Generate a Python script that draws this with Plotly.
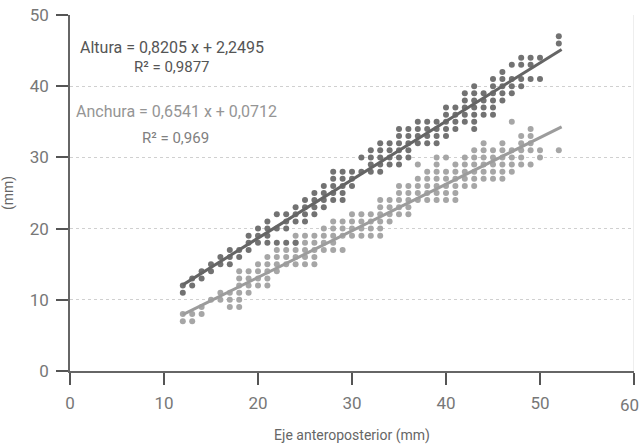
import plotly.graph_objects as go

# Altura (height) observations: x (anteroposterior, mm) -> list of y (mm)
altura_cols = {
    12: [12, 11], 13: [13, 12], 14: [14, 13], 15: [15, 14], 16: [16, 15],
    17: [17, 16, 15], 18: [17, 16], 19: [19, 18, 17], 20: [20, 19, 18],
    21: [21, 20, 19, 18], 22: [22, 20, 18], 23: [22, 21, 20, 18],
    24: [23, 22, 21, 18], 25: [24, 23, 22, 21], 26: [25, 24, 23, 22],
    27: [26, 25, 24, 23], 28: [28, 27, 26, 25, 24], 29: [28, 27, 26, 25, 24],
    30: [28, 27, 26], 31: [30, 28], 32: [31, 30, 29, 28],
    33: [32, 31, 30, 29, 28], 34: [32, 31, 30, 29], 35: [34, 33, 32, 31, 30, 29],
    36: [34, 33, 32, 31, 30], 37: [35, 34, 33, 32], 38: [35, 34, 33, 32],
    39: [35, 34, 33, 32], 40: [37, 36, 35, 34, 33], 41: [37, 36, 35, 34],
    42: [39, 38, 37, 36, 35], 43: [40, 39, 38, 37, 36, 35, 34],
    44: [39, 38, 37, 36], 45: [41, 40, 39, 38, 37, 36], 46: [42, 41, 40, 39, 38],
    47: [43, 41, 40, 39], 48: [44, 43, 41, 40], 49: [44, 43, 41], 50: [44, 41],
    52: [47, 46],
}

# Anchura (width) observations
anchura_cols = {
    12: [8, 7], 13: [8, 7], 14: [9, 8], 15: [10], 16: [11, 10], 17: [11, 10, 9],
    18: [14, 13, 12, 11, 10, 9], 19: [14, 13, 12, 11], 20: [15, 14, 13, 12],
    21: [16, 15, 14, 13, 12], 22: [17, 16, 15, 14], 23: [17, 16, 15],
    24: [19, 18, 17, 16, 15], 25: [19, 18, 17, 16, 15], 26: [19, 18, 17, 16, 15],
    27: [20, 19, 18, 17], 28: [21, 20, 19, 18, 17], 29: [21, 20, 19, 17],
    30: [22, 21, 20, 19], 31: [22, 21, 20, 19], 32: [22, 21, 20, 19],
    33: [24, 23, 22, 21, 20, 19], 34: [24, 23, 22, 21], 35: [26, 25, 24, 23, 22],
    36: [26, 25, 24, 23, 22], 37: [29, 27, 26, 25, 24], 38: [28, 27, 26, 25, 24],
    39: [30, 29, 28, 27, 26, 25, 24], 40: [30, 28, 27, 26, 25, 24],
    41: [29, 28, 27, 26, 25, 24], 42: [30, 29, 28, 27, 26],
    43: [31, 30, 29, 28, 27, 26], 44: [32, 31, 30, 29, 28, 27],
    45: [31, 30, 29, 28, 27], 46: [32, 31, 30, 29, 28, 27],
    47: [35, 31, 30, 29, 28], 48: [33, 32, 31, 30, 29], 49: [34, 33, 32, 31, 29],
    50: [31, 30], 52: [31],
}

# Trendline coefficients (slope, intercept) and fitted x range
altura_fit = (0.8205, 2.2495)
anchura_fit = (0.6541, 0.0712)
fit_range = [12, 52.3]

x_ticks = [0, 10, 20, 30, 40, 50, 60]
y_ticks = [0, 10, 20, 30, 40, 50]


def expand(cols):
    xs, ys = [], []
    for x, yl in cols.items():
        for y in yl:
            xs.append(x)
            ys.append(y)
    return xs, ys


ax, ay = expand(altura_cols)
bx, by = expand(anchura_cols)

C_ALT = "#727272"
C_ANC = "#a6a6a6"
FONT = "Roboto, Liberation Sans, sans-serif"
TICK_COLOR = "#777777"

fig = go.Figure()
fig.add_trace(go.Scatter(x=bx, y=by, mode="markers",
                         marker=dict(size=6, color=C_ANC), showlegend=False))
fig.add_trace(go.Scatter(x=ax, y=ay, mode="markers",
                         marker=dict(size=6, color=C_ALT), showlegend=False))
fig.add_trace(go.Scatter(x=fit_range,
                         y=[anchura_fit[0] * v + anchura_fit[1] for v in fit_range],
                         mode="lines", line=dict(color="#9c9c9c", width=3),
                         showlegend=False))
fig.add_trace(go.Scatter(x=fit_range,
                         y=[altura_fit[0] * v + altura_fit[1] for v in fit_range],
                         mode="lines", line=dict(color="#656565", width=3),
                         showlegend=False))

ann = [
    ("Altura = 0,8205 x + 2,2495", 10.85, 45.5, "#555555", 16),
    ("R² = 0,9877", 10.85, 42.7, "#555555", 15),
    ("Anchura = 0,6541 x + 0,0712", 11.3, 36.5, "#959595", 16),
    ("R² = 0,969", 11.2, 32.7, "#808080", 15),
]
for text, x, y, col, sz in ann:
    fig.add_annotation(x=x, y=y, text=text, showarrow=False, xanchor="center",
                       font=dict(family=FONT, size=sz, color=col))

# last x tick label kept fully inside the page (right-aligned at the edge)
x_ticktext = [str(v) for v in x_ticks[:-1]] + [""]
fig.add_annotation(x=x_ticks[-1], y=0, xref="x", yref="y", text=str(x_ticks[-1]),
                   showarrow=False, xanchor="right", yanchor="middle",
                   xshift=7, yshift=-34,
                   font=dict(family=FONT, size=17, color=TICK_COLOR))

fig.update_layout(
    width=641, height=444,
    margin=dict(l=70, r=7, t=15, b=73),
    paper_bgcolor="white", plot_bgcolor="white",
    font=dict(family=FONT, color="#666666", size=15),
)
fig.update_xaxes(
    range=[0, 60], tickvals=x_ticks, ticktext=x_ticktext, ticks="outside",
    ticklen=12, tickwidth=1.5,
    tickcolor="#555555", showline=True, linecolor="#666666", linewidth=1.5,
    showgrid=False, zeroline=False, mirror=False, automargin=False,
    ticklabelstandoff=4,
    tickfont=dict(size=17, color=TICK_COLOR, family=FONT),
    title=dict(text="Eje anteroposterior (mm)", font=dict(size=14, color="#666666"),
               standoff=18),
)
fig.update_yaxes(
    range=[0, 50], tickvals=y_ticks, ticks="outside", ticklen=12, tickwidth=1.5,
    tickcolor="#555555", showline=True, linecolor="#666666", linewidth=1.5,
    showgrid=True, gridcolor="#d0d0d0", griddash="dot", gridwidth=1,
    zeroline=False, ticklabelstandoff=4, automargin=False,
    tickfont=dict(size=17, color=TICK_COLOR, family=FONT),
    title=dict(text="(mm)", font=dict(size=14, color="#666666"), standoff=14),
)
# faint right border of the plot area
fig.add_shape(type="line", xref="x", yref="y", x0=60, x1=60, y0=0, y1=50,
              line=dict(color="#dddddd", width=1))

fig.write_html("out.html")
